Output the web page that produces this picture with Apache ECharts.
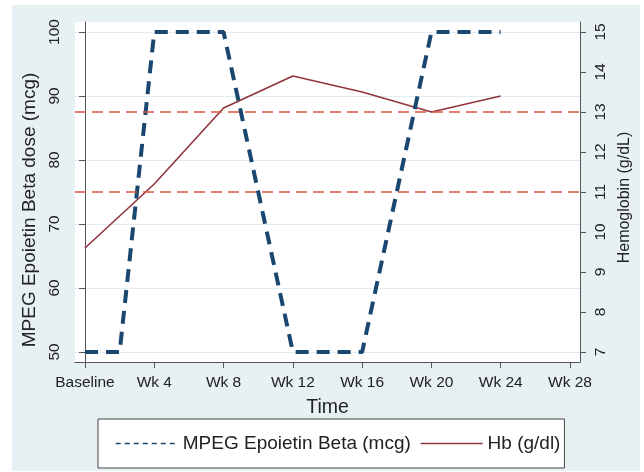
<!DOCTYPE html>
<html>
<head>
<meta charset="utf-8">
<script src="https://cdn.jsdelivr.net/npm/echarts@6/dist/echarts.min.js"></script>
<style>
  html, body { margin: 0; padding: 0; background: #fff; }
  #chart { width: 644px; height: 472px; }
</style>
</head>
<body>
<div id="chart"></div>
<script>
// ---- data ----
const xTickValues = [0, 4, 8, 12, 16, 20, 24, 28];
const xTickLabels = ['Baseline', 'Wk 4', 'Wk 8', 'Wk 12', 'Wk 16', 'Wk 20', 'Wk 24', 'Wk 28'];
const doseTickValues = [50, 60, 70, 80, 90, 100];
const hbTickValues = [7, 8, 9, 10, 11, 12, 13, 14, 15];

const doseWeeks = [0, 2, 4, 8, 12, 16, 20, 24];
const doseValues = [50, 50, 100, 100, 50, 50, 100, 100];

const hbWeeks = [0, 4, 8, 12, 16, 20, 24];
const hbValues = [9.6, 11.2, 13.1, 13.9, 13.5, 13.0, 13.4];

const hbRefLines = [11, 13];

const doseName = 'MPEG Epoietin Beta (mcg)';
const hbName = 'Hb (g/dl)';

// ---- chart ----
const FONT = '"Liberation Sans", Arial, Helvetica, sans-serif';
const AXIS_COLOR = '#555';
const TEXT_COLOR = '#222';

const chart = echarts.init(document.getElementById('chart'), null, { renderer: 'canvas' });

const option = {
  backgroundColor: '#ffffff',
  animation: false,
  textStyle: { fontFamily: FONT },
  graphic: [{
    type: 'rect',
    z: -10,
    shape: { x: 12, y: 5, width: 628, height: 466 },
    style: { fill: '#e7f0f3' },
    silent: true
  }],
  grid: {
    left: 75, right: 64, top: 22, bottom: 110,
    show: true, backgroundColor: '#ffffff', borderWidth: 0
  },
  legend: {
    left: 98, top: 419,
    orient: 'horizontal',
    itemWidth: 62, itemHeight: 14, itemGap: 9,
    padding: [15, 4, 15, 17],
    backgroundColor: '#ffffff',
    borderColor: '#444', borderWidth: 1, borderRadius: 0,
    textStyle: { fontSize: 19, color: TEXT_COLOR, fontFamily: FONT },
    data: [
      { name: doseName, itemStyle: { color: 'transparent', borderWidth: 0 },
        lineStyle: { width: 1.5, type: [5, 4], color: '#1a476f' } },
      { name: hbName, itemStyle: { color: 'transparent', borderWidth: 0 },
        lineStyle: { width: 1.5, color: '#90353b' } }
    ]
  },
  xAxis: {
    type: 'value',
    min: -0.577, max: 28.577,
    name: 'Time', nameLocation: 'middle', nameGap: 36,
    nameTextStyle: { fontSize: 19.5, color: TEXT_COLOR },
    axisLine: { show: true, lineStyle: { color: AXIS_COLOR, width: 1 } },
    axisTick: { show: true, length: 6, customValues: xTickValues, lineStyle: { color: AXIS_COLOR } },
    axisLabel: {
      customValues: xTickValues, fontSize: 15.5, color: TEXT_COLOR, margin: 13,
      formatter: v => xTickLabels[xTickValues.indexOf(v)]
    },
    splitLine: { show: false }
  },
  yAxis: [{
    type: 'value',
    position: 'left',
    min: 48.4375, max: 101.5625,
    name: 'MPEG Epoietin Beta dose (mcg)', nameLocation: 'middle', nameGap: 32, nameRotate: 90,
    nameTextStyle: { fontSize: 19, color: TEXT_COLOR, padding: [0, 36, 0, 0] },
    axisLine: { show: true, lineStyle: { color: AXIS_COLOR, width: 1 } },
    axisTick: { show: true, length: 6, customValues: doseTickValues, lineStyle: { color: AXIS_COLOR } },
    axisLabel: { customValues: doseTickValues, rotate: 90, fontSize: 15.5, color: TEXT_COLOR, margin: 12 },
    splitLine: { show: true, lineStyle: { color: '#e1edf3', width: 1 } }
  }, {
    type: 'value',
    position: 'right',
    min: 6.75, max: 15.25,
    name: 'Hemoglobin (g/dL)', nameLocation: 'middle', nameGap: 22, nameRotate: 90,
    nameTextStyle: { fontSize: 16, color: TEXT_COLOR, padding: [0, 11, 0, 0] },
    axisLine: { show: true, lineStyle: { color: AXIS_COLOR, width: 1 } },
    axisTick: { show: true, length: 6, customValues: hbTickValues, lineStyle: { color: AXIS_COLOR } },
    axisLabel: { customValues: hbTickValues, rotate: 90, fontSize: 15.5, color: TEXT_COLOR, margin: 13 },
    splitLine: { show: false }
  }],
  series: [{
    name: doseName,
    type: 'line',
    xAxisIndex: 0, yAxisIndex: 0,
    data: doseWeeks.map((w, i) => [w, doseValues[i]]),
    symbol: 'none',
    lineStyle: { color: '#1a476f', width: 4, type: [13, 8] },
    itemStyle: { color: '#1a476f' },
    z: 3
  }, {
    name: hbName,
    type: 'line',
    xAxisIndex: 0, yAxisIndex: 1,
    data: hbWeeks.map((w, i) => [w, hbValues[i]]),
    symbol: 'none',
    lineStyle: { color: '#90353b', width: 1.6 },
    itemStyle: { color: '#90353b' },
    z: 2,
    markLine: {
      silent: true,
      symbol: 'none',
      label: { show: false },
      lineStyle: { color: '#dc5540', width: 1.6, type: [11, 6] },
      data: hbRefLines.map(v => ({ yAxis: v }))
    }
  }]
};

chart.setOption(option);
</script>
</body>
</html>
